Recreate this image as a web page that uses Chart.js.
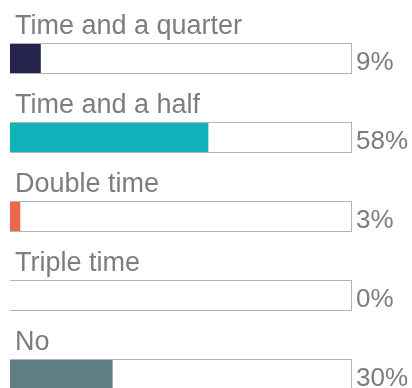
<!DOCTYPE html>
<html>
<head>
<meta charset="utf-8">
<script src="https://cdn.jsdelivr.net/npm/chart.js@4"></script>
<style>
  html, body { margin: 0; padding: 0; background: #fff; overflow: hidden; }
  #wrap { width: 412px; height: 414px; }
</style>
</head>
<body>
<div id="wrap"><canvas id="barChart" width="412" height="414"></canvas></div>
<script>
// --- Data ---
const categories = ['Time and a quarter', 'Time and a half', 'Double time', 'Triple time', 'No'];
const percentValues = [9, 58, 3, 0, 30];
const barColors = ['#24244f', '#12b2ba', '#e8694b', '#5e7f84'];
const trackValues = [100, 100, 100, 100, 100];
const barColorList = [barColors[0], barColors[1], barColors[2], barColors[2], barColors[3]];

const textColor = '#7d7d7d';
const labelFont = '27px "Liberation Sans", Arial, sans-serif';
const valueFont = '26px "Liberation Sans", Arial, sans-serif';

// --- Labels above bars and % on the right ---
const barLabelsPlugin = {
    id: 'barLabels',
    afterDatasetsDraw(chart) {
        const ctx = chart.ctx;
        const meta = chart.getDatasetMeta(1);
        ctx.save();
        ctx.fillStyle = textColor;
        ctx.textBaseline = 'alphabetic';
        ctx.textAlign = 'left';
        meta.data.forEach((bar, i) => {
            const top = bar.y - bar.height / 2;
            const bottom = bar.y + bar.height / 2;
            ctx.font = labelFont;
            ctx.fillText(categories[i], chart.chartArea.left + 5, top - 9);
            ctx.font = valueFont;
            ctx.fillText(percentValues[i] + '%', bar.x + 4, bottom - 4);
        });
        ctx.restore();
    }
};

const ctx = document.getElementById('barChart').getContext('2d');
window.barChart = new Chart(ctx, {
    type: 'bar',
    data: {
        labels: categories,
        datasets: [
            {
                label: 'Value',
                data: percentValues,
                backgroundColor: barColorList,
                borderWidth: 0,
                inflateAmount: 0,
                barThickness: 31,
                grouped: false,
                order: 1
            },
            {
                label: 'Track',
                data: trackValues,
                backgroundColor: 'rgba(0,0,0,0)',
                borderColor: '#b3b3b3',
                borderWidth: 1,
                inflateAmount: 0,
                barThickness: 31,
                grouped: false,
                order: 0
            }
        ]
    },
    options: {
        indexAxis: 'y',
        responsive: false,
        animation: false,
        layout: { padding: { top: 19, right: 60, bottom: 0, left: 10 } },
        plugins: {
            legend: { display: false },
            tooltip: { enabled: false }
        },
        scales: {
            x: { display: false, min: 0, max: 100 },
            y: { display: false }
        }
    },
    plugins: [barLabelsPlugin]
});
</script>
</body>
</html>
